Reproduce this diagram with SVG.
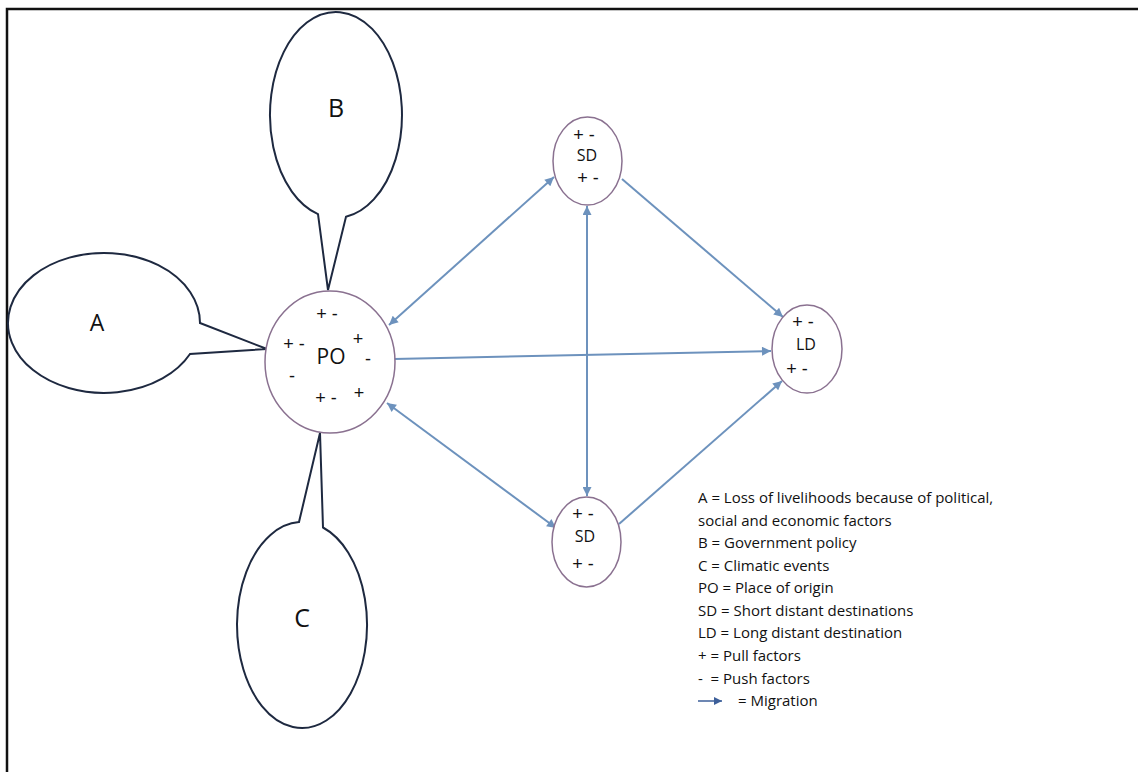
<svg xmlns="http://www.w3.org/2000/svg" width="1138" height="772" viewBox="0 0 1138 772">
<defs>
<style>
.bub{fill:#fff;stroke:#1e2940;stroke-width:2;stroke-linejoin:miter}
.nd{fill:#fff;stroke:#8a7190;stroke-width:1.5}
.cn{stroke:#6d92bd;stroke-width:2;fill:none}
.t{font-family:"Open Sans","Liberation Sans",sans-serif;fill:#111}
.big{font-size:24px;text-anchor:middle}
.sg{font-family:"Liberation Sans",sans-serif;font-size:18px;text-anchor:middle;fill:#111}
.lg{font-family:"Open Sans","Liberation Sans",sans-serif;font-size:15px;fill:#111;white-space:pre}
</style>
<marker id="ah" viewBox="0 0 10 10" refX="10" refY="5" markerWidth="11" markerHeight="9" markerUnits="userSpaceOnUse" orient="auto-start-reverse">
<path d="M0 0 L10 5 L0 10 Z" fill="#6d92bd"/>
</marker>
<marker id="ah2" viewBox="0 0 10 10" refX="10" refY="5" markerWidth="9" markerHeight="8" markerUnits="userSpaceOnUse" orient="auto">
<path d="M0 0 L10 5 L0 10 Z" fill="#3d5f9a"/>
</marker>
</defs>
<rect width="1138" height="772" fill="#fff"/>
<path d="M7 772 V9 H1138" fill="none" stroke="#111" stroke-width="2.5"/>

<g id="connectors">
<line class="cn" x1="389" y1="325" x2="554" y2="177" marker-start="url(#ah)" marker-end="url(#ah)"/>
<line class="cn" x1="622" y1="179" x2="783" y2="317" marker-end="url(#ah)"/>
<line class="cn" x1="394" y1="359" x2="771" y2="351" marker-end="url(#ah)"/>
<line class="cn" x1="587" y1="206" x2="587" y2="496" marker-start="url(#ah)" marker-end="url(#ah)"/>
<line class="cn" x1="387" y1="403" x2="556" y2="528" marker-start="url(#ah)" marker-end="url(#ah)"/>
<line class="cn" x1="619" y1="524" x2="782" y2="381" marker-end="url(#ah)"/>
</g>

<g id="A">
<path class="bub" d="M200 323 L267 349 L190 354 A96 70 0 1 1 200 323 Z"/>
<text class="t big" x="97" y="331" style="font-size:23px">A</text>
</g>
<g id="B">
<path class="bub" d="M318 214.1 L328 290 L346 216.8 A66 103 0 1 0 318 214.1 Z"/>
<text class="t big" x="336" y="117" style="font-size:25px">B</text>
</g>
<g id="C">
<path class="bub" d="M299 522.1 L320 433 L323 527.5 A65 103 0 1 1 299 522.1 Z"/>
<text class="t big" x="302" y="627" style="font-size:25px">C</text>
</g>

<g id="PO">
<ellipse class="nd" cx="330" cy="362" rx="65" ry="71"/>
<text class="t" x="331" y="364" style="font-size:21px;text-anchor:middle">PO</text>
<text class="sg" x="327" y="320">+ -</text>
<text class="sg" x="294" y="350">+ -</text>
<text class="sg" x="358" y="345">+</text>
<text class="sg" x="368" y="365">-</text>
<text class="sg" x="292" y="382">-</text>
<text class="sg" x="326" y="404">+ -</text>
<text class="sg" x="359" y="399">+</text>
</g>

<g id="SD1">
<ellipse class="nd" cx="587.5" cy="161" rx="34.5" ry="44"/>
<text class="sg" x="584" y="141">+ -</text>
<text class="t" x="587" y="161" style="font-size:16px;text-anchor:middle">SD</text>
<text class="sg" x="588" y="184">+ -</text>
</g>

<g id="LD">
<ellipse class="nd" cx="807" cy="349" rx="35" ry="44"/>
<text class="sg" x="803" y="328">+ -</text>
<text class="t" x="806" y="350" style="font-size:16px;text-anchor:middle">LD</text>
<text class="sg" x="797" y="375">+ -</text>
</g>

<g id="SD2">
<ellipse class="nd" cx="586.5" cy="542" rx="34.5" ry="45"/>
<text class="sg" x="583" y="520">+ -</text>
<text class="t" x="585" y="542" style="font-size:16px;text-anchor:middle">SD</text>
<text class="sg" x="583" y="570">+ -</text>
</g>

<g id="legend">
<text class="lg" x="698" y="503">A = Loss of livelihoods because of political,</text>
<text class="lg" x="698" y="526">social and economic factors</text>
<text class="lg" x="698" y="548">B = Government policy</text>
<text class="lg" x="698" y="571">C = Climatic events</text>
<text class="lg" x="698" y="593">PO = Place of origin</text>
<text class="lg" x="698" y="616">SD = Short distant destinations</text>
<text class="lg" x="698" y="638">LD = Long distant destination</text>
<text class="lg" x="698" y="661">+ = Pull factors</text>
<text class="lg" x="698" y="684">-  = Push factors</text>
<line x1="698" y1="701" x2="722" y2="701" stroke="#3d5f9a" stroke-width="1.5" marker-end="url(#ah2)"/>
<text class="lg" x="738" y="706">= Migration</text>
</g>
</svg>
